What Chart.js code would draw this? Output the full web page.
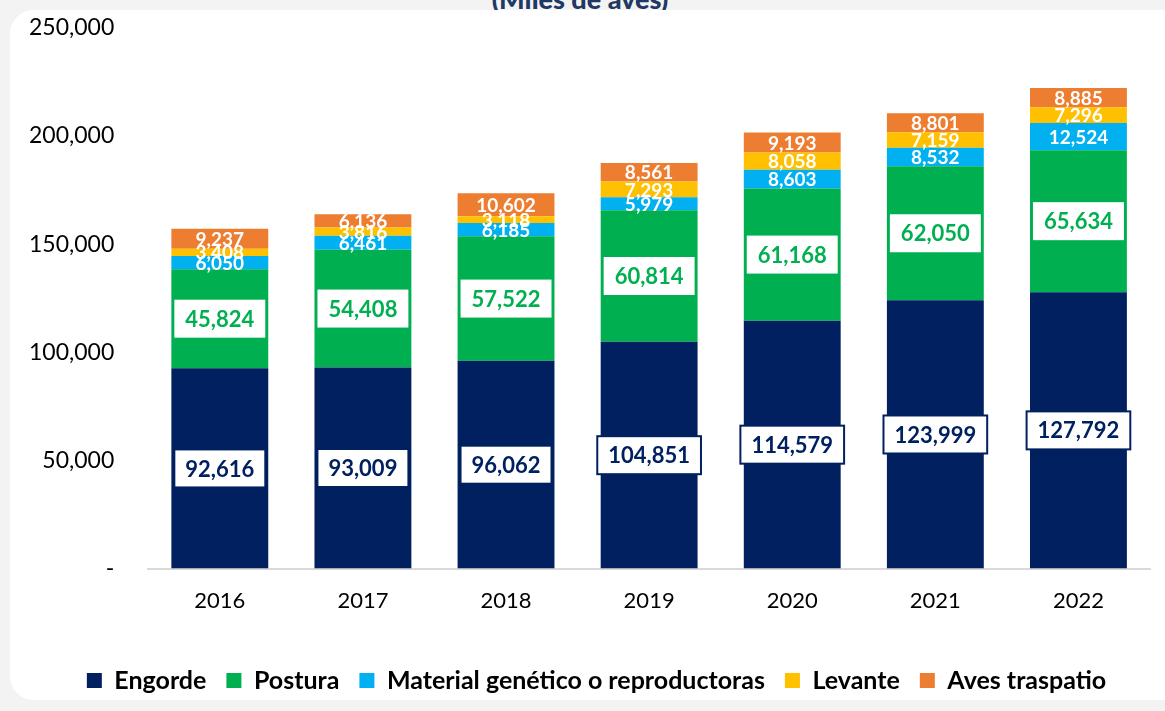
<!DOCTYPE html>
<html>
<head>
<meta charset="utf-8">
<script src="https://cdn.jsdelivr.net/npm/chart.js@4"></script>
<style>
    html, body {
        margin: 0;
        padding: 0;
        width: 1165px;
        height: 711px;
        overflow: hidden;
        background: #f3f3f3;
        font-family: Lato, sans-serif;
    }
    #titulo {
        position: absolute;
        top: -18px;
        left: 0;
        width: 1160px;
        text-align: center;
        font: 900 27px Lato, sans-serif;
        color: #1f3864;
    }
    #tarjeta {
        position: absolute;
        left: 10px;
        top: 10px;
        width: 1200px;
        height: 690px;
        background: #ffffff;
        border-radius: 24px;
    }
    #lienzo {
        position: absolute;
        left: 0;
        top: -12px;
    }
</style>
</head>
<body>
<div id="titulo">(Miles de aves)</div>
<div id="tarjeta"></div>
<div id="lienzo" style="width:1165px;height:723px;">
    <canvas id="aves"></canvas>
</div>
<script>
//Datos (miles de aves)
const anios = ["2016", "2017", "2018", "2019", "2020", "2021", "2022"];
const engorde = [92616, 93009, 96062, 104851, 114579, 123999, 127792];
const postura = [45824, 54408, 57522, 60814, 61168, 62050, 65634];
const material = [6050, 6461, 6185, 5979, 8603, 8532, 12524];
const levante = [3408, 3816, 3118, 7293, 8058, 7159, 7296];
const traspatio = [9237, 6136, 10602, 8561, 9193, 8801, 8885];

//Etiquetas dentro de cada segmento
const etiquetas = {
    id: "etiquetas",
    afterLayout(chart) {
        //la leyenda va un poco corrida a la derecha
        chart.legend.left += 20;
        chart.legend.right += 20;
    },
    afterDatasetsDraw(chart) {
        const ctx = chart.ctx;
        chart.data.datasets.forEach((ds, i) => {
            const meta = chart.getDatasetMeta(i);
            meta.data.forEach((bar, j) => {
                const texto = ds.data[j].toLocaleString("en-US");
                const y = (bar.y + bar.base) / 2;
                ctx.save();
                ctx.textAlign = "center";
                ctx.textBaseline = "middle";
                if (i === 0 || i === 1) {
                    ctx.font = "bold 22px Lato, sans-serif";
                    const w = ctx.measureText(texto).width + 22;
                    const h = 38;
                    ctx.fillStyle = "#ffffff";
                    ctx.fillRect(bar.x - w / 2, y - h / 2, w, h);
                    if (i === 0) {
                        ctx.strokeStyle = "#002060";
                        ctx.lineWidth = 2;
                        ctx.strokeRect(bar.x - w / 2, y - h / 2, w, h);
                    }
                    ctx.fillStyle = i === 0 ? "#002060" : "#00b050";
                    ctx.fillText(texto, bar.x, y + 1);
                } else {
                    ctx.font = "bold 19px Lato, sans-serif";
                    ctx.fillStyle = "#ffffff";
                    ctx.fillText(texto, bar.x, y + 1);
                }
                ctx.restore();
            });
        });
    },
};

new Chart(document.getElementById("aves"), {
    type: "bar",
    data: {
        labels: anios,
        datasets: [
            { label: "Engorde", data: engorde, backgroundColor: "#002060" },
            { label: "Postura", data: postura, backgroundColor: "#00b050" },
            { label: "Material genético o reproductoras", data: material, backgroundColor: "#00b0f0" },
            { label: "Levante", data: levante, backgroundColor: "#ffc000" },
            { label: "Aves traspatio", data: traspatio, backgroundColor: "#ed7d31" },
        ],
    },
    options: {
        responsive: true,
        maintainAspectRatio: false,
        animation: false,
        datasets: {
            bar: {
                categoryPercentage: 1,
                barPercentage: 0.677,
                borderWidth: 0,
            },
        },
        layout: {
            padding: { left: 3, right: 15, top: 0, bottom: 8 },
        },
        plugins: {
            tooltip: { enabled: false },
            legend: {
                position: "bottom",
                labels: {
                    boxWidth: 15,
                    boxHeight: 15,
                    padding: 20,
                    color: "#000000",
                    font: { family: "Lato", size: 25, weight: "bold" },
                },
            },
        },
        scales: {
            x: {
                stacked: true,
                grid: { display: false },
                border: { color: "#d9d9d9", width: 2 },
                ticks: {
                    color: "#000000",
                    padding: 11,
                    font: { family: "Lato", size: 22 },
                },
                afterFit: function (escala) {
                    escala.height += 23;
                },
            },
            y: {
                stacked: true,
                min: 0,
                max: 250000,
                grid: { display: false },
                border: { display: false },
                ticks: {
                    stepSize: 50000,
                    padding: 26,
                    color: "#000000",
                    font: { family: "Lato", size: 23 },
                    callback: function (numero) {
                        return numero === 0 ? "-" : numero.toLocaleString("en-US");
                    },
                },
            },
        },
    },
    plugins: [etiquetas],
});
</script>
</body>
</html>
